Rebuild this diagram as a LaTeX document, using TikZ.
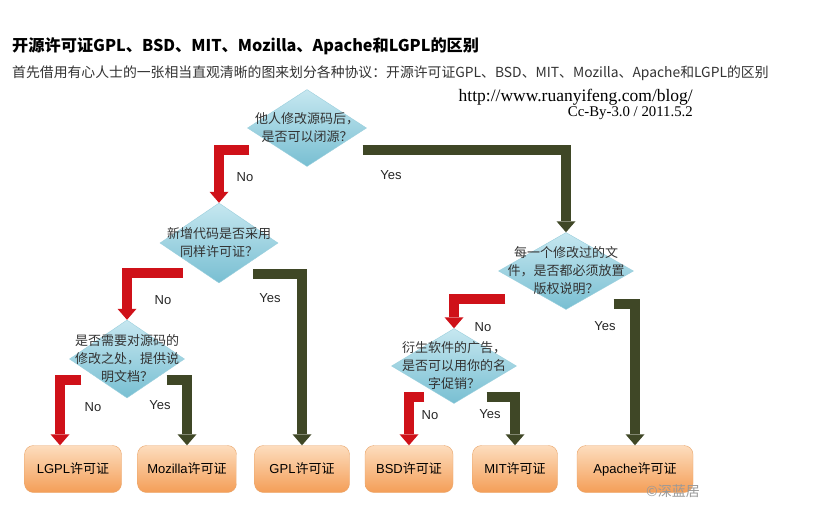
\documentclass[tikz,border=0pt]{standalone}
\usepackage{fontspec}
\setmainfont{Liberation Sans}
\newfontfamily\cjk{Noto Sans CJK SC}
\newfontfamily\serifurl{Liberation Serif}
\usetikzlibrary{shapes.geometric,arrows.meta}
\definecolor{noRed}{HTML}{CF1119}
\definecolor{yesGreen}{HTML}{3F4726}
\definecolor{diaTop}{HTML}{C6E7F0}
\definecolor{diaBot}{HTML}{78BFD2}
\definecolor{diaLine}{HTML}{9ACFDD}
\definecolor{boxTop}{HTML}{FDDDBE}
\definecolor{boxBot}{HTML}{F49E57}
\definecolor{boxLine}{HTML}{E9A66C}
\definecolor{txtGrey}{HTML}{333333}

\begin{document}
\begin{tikzpicture}[x=1pt,y=-1pt,
  dia/.style 2 args={diamond, minimum width=#1, minimum height=#2, inner sep=0pt,
    top color=diaTop, bottom color=diaBot, draw=diaLine},
  diatxt/.style={align=center, inner sep=0pt, text=txtGrey, font=\cjk\fontsize{13}{18}\selectfont},
  licbox/.style={rounded corners=9pt, minimum height=47pt, top color=boxTop, bottom color=boxBot,
    draw=boxLine, font=\fontsize{13}{15}\selectfont},
  fatarrow/.style={line width=10pt, line join=miter, -{Triangle[width=19pt,length=11pt,line width=0pt]}},
  yn/.style={font=\fontsize{13}{15}\selectfont, text=black!85}
]
 \fill[white] (0,0) rectangle (813,504);
 \useasboundingbox (0,0) rectangle (813,504);

 % heading
 \node[anchor=west, inner sep=0pt, font=\cjk\bfseries\fontsize{16.2}{20}\selectfont] (title) at (12,46)
   {开源许可证GPL、BSD、MIT、Mozilla、Apache和LGPL的区别};
 \node[anchor=west, inner sep=0pt, text=txtGrey, font=\cjk\fontsize{13.85}{17}\selectfont] (sub) at (12,73)
   {首先借用有心人士的一张相当直观清晰的图来划分各种协议：开源许可证GPL、BSD、MIT、Mozilla、Apache和LGPL的区别};
 \node[anchor=east, inner sep=0pt, font=\serifurl\fontsize{17.5}{18}\selectfont] (url) at (693,97) {http://www.ruanyifeng.com/blog/};
 \node[anchor=east, inner sep=0pt, font=\serifurl\fontsize{14.8}{18}\selectfont] (cc) at (693,113) {Cc-By-3.0 / 2011.5.2};

 % questions
 \node[dia={119pt}{77pt}, label={[diatxt]center:{他人修改源码后，\\是否可以闭源？}}] (d1) at (307,128) {};
 \node[dia={118pt}{80pt}, label={[diatxt]center:{新增代码是否采用\\同样许可证？}}] (d2) at (219,243) {};
 \node[dia={115pt}{78pt}, label={[diatxt]center:{是否需要对源码的\\修改之处，提供说\\明文档？}}] (d3) at (127,359) {};
 \node[dia={135pt}{77pt}, label={[diatxt]center:{每一个修改过的文\\件，是否都必须放置\\版权说明？}}] (d4) at (566,271) {};
 \node[dia={125pt}{75pt}, label={[diatxt]center:{衍生软件的广告，\\是否可以用你的名\\字促销？}}] (d5) at (454,366) {};

 % licences
 \foreach \x/\w/\name/\lic in {73/97/lgpl/LGPL, 187/99/mozilla/Mozilla, 302/95/gpl/GPL,
                               409/88/bsd/BSD, 515/85/mit/MIT, 635/116/apache/Apache}
   \node[licbox, minimum width=\w pt] (\name) at (\x,469) {\lic{\cjk 许可证}};
 \coordinate (lgplin) at ([xshift=-13pt]lgpl.north);

 % lines
 \foreach \src/\dx/\dy/\dst in {d1.west/2/22/d2.north, d2.west/23/30/d3.north, d3.west/12/21/lgplin,
                                d4.west/7/28/d5.north, d5.west/33/31/bsd.north}
   \path[draw=noRed, fatarrow] ([shift={(\dx,\dy)}]\src) -| (\dst);
 \foreach \src/\dx/\dy/\dst in {d1.east/-4/22/d4.north, d2.east/-25/31/gpl.north, d3.east/-18/21/mozilla.north,
                                d4.east/-20/33/apache.north, d5.east/-30/31/mit.north}
   \path[draw=yesGreen, fatarrow] ([shift={(\dx,\dy)}]\src) -| (\dst);

 \foreach \n/\x/\y/\t in {no1/245/177/No, yes1/391/175/Yes, no2/163/300/No, yes2/270/298/Yes,
                          no3/93/407/No, yes3/160/405/Yes, no4/483/327/No, yes4/605/326/Yes,
                          no5/430/415/No, yes5/490/414/Yes}
   \node[yn] (\n) at (\x,\y) {\t};

 % watermark
 \node[text=black!40, font=\cjk\fontsize{14}{14}\selectfont] (mark) at (673,491) {©深蓝居};
\end{tikzpicture}
\end{document}
